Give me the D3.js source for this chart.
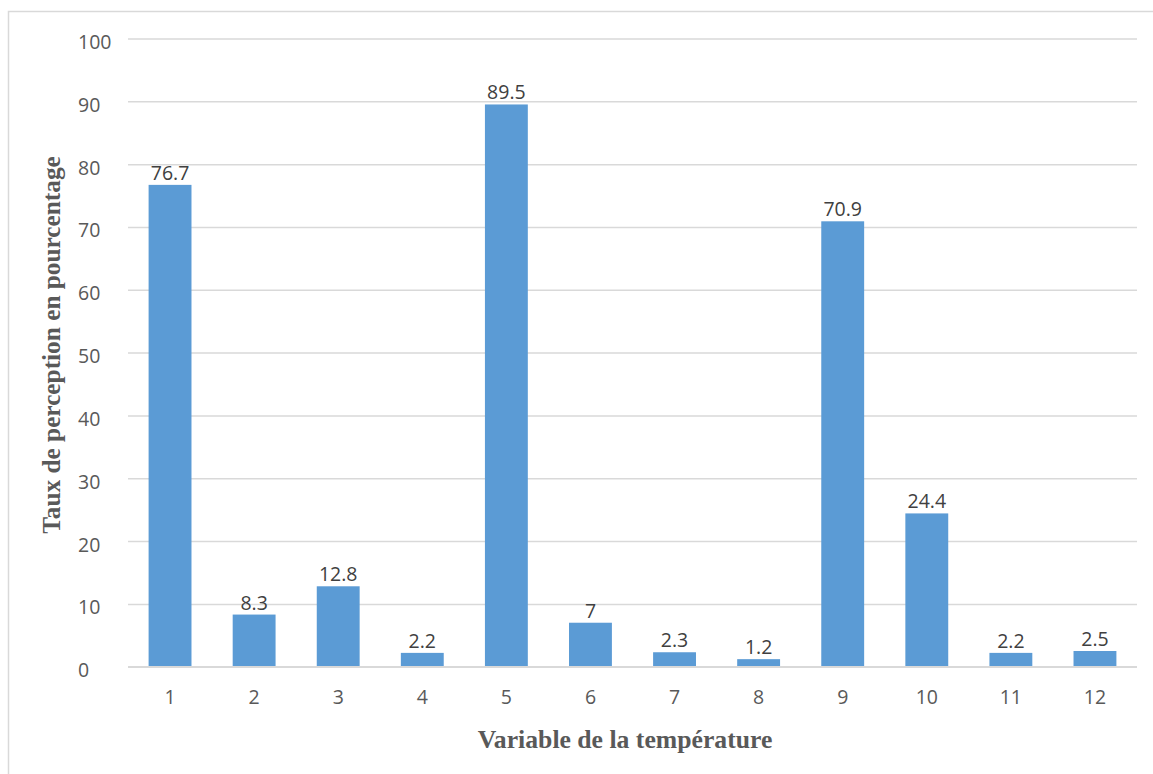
<!DOCTYPE html>
<html><head><meta charset="utf-8">
<script src="https://cdn.jsdelivr.net/npm/d3@7"></script>
<style>body{margin:0;background:#fff}svg{display:block}</style>
</head><body>
<svg id="c" width="1153" height="774"></svg>
<script>
const categories = ["1","2","3","4","5","6","7","8","9","10","11","12"];
const values = [76.7, 8.3, 12.8, 2.2, 89.5, 7, 2.3, 1.2, 70.9, 24.4, 2.2, 2.5];
const labels = ["76.7","8.3","12.8","2.2","89.5","7","2.3","1.2","70.9","24.4","2.2","2.5"];
const yTicks = [0,10,20,30,40,50,60,70,80,90,100];

const svg = d3.select("#c");
const mLeft = 128, mRight = 1137, mTop = 38.5, mBottom = 666.7;
svg.append("rect").attr("x",8.5).attr("y",11.5).attr("width",1150).attr("height",770)
  .attr("fill","#fff").attr("stroke","#d9d9d9").attr("stroke-width",1.5);

const x = d3.scaleBand().domain(categories).range([mLeft,mRight]).paddingInner(0.49).paddingOuter(0.245);
const y = d3.scaleLinear().domain([0,100]).range([mBottom,mTop]);
const font = "'Open Sans','Noto Sans',sans-serif";

const yAxis = svg.append("g").attr("transform",`translate(${mLeft},0)`)
  .call(d3.axisLeft(y).tickValues(yTicks).tickSize(-(mRight-mLeft)).tickPadding(14));
yAxis.select(".domain").remove();
yAxis.selectAll(".tick line").attr("stroke","#d9d9d9").attr("stroke-width",1.5);
yAxis.selectAll(".tick text").attr("fill","#595959").style("font-family",font).style("font-size","19.5px")
  .attr("text-anchor","start").attr("x",78-mLeft).attr("y",3).attr("dy","0.36em");

const xAxis = svg.append("g").attr("transform",`translate(0,${mBottom})`)
  .call(d3.axisBottom(x).tickSize(0));
xAxis.select(".domain").remove();
xAxis.selectAll(".tick text").attr("fill","#595959").style("font-family",font).style("font-size","19.5px")
  .attr("y",704-mBottom).attr("dy",0);

svg.append("g").selectAll("rect").data(values).join("rect")
  .attr("x",(d,i)=>x(categories[i])).attr("width",x.bandwidth())
  .attr("y",d=>y(d)).attr("height",d=>y(0)-y(d)).attr("fill","#5b9bd5");

svg.append("line").attr("x1",mLeft).attr("x2",mRight).attr("y1",mBottom).attr("y2",mBottom)
  .attr("stroke","#d9d9d9").attr("stroke-width",1.5);

svg.append("g").selectAll("text").data(values).join("text")
  .attr("x",(d,i)=>x(categories[i])+x.bandwidth()/2).attr("y",d=>y(d)-5)
  .attr("text-anchor","middle").attr("fill","#404040")
  .style("font-family",font).style("font-size","19.5px").text((d,i)=>labels[i]);

svg.append("text").attr("x",625).attr("y",748).attr("text-anchor","middle")
  .attr("fill","#595959").style("font-family","'Liberation Serif','Times New Roman',serif")
  .style("font-weight","bold").style("font-size","25.7px").text("Variable de la température");

svg.append("text").attr("transform",`translate(60,345) rotate(-90)`).attr("text-anchor","middle")
  .attr("fill","#595959").style("font-family","'Liberation Serif','Times New Roman',serif")
  .style("font-weight","bold").style("font-size","25.3px").text("Taux de perception en pourcentage");
</script>
</body></html>
